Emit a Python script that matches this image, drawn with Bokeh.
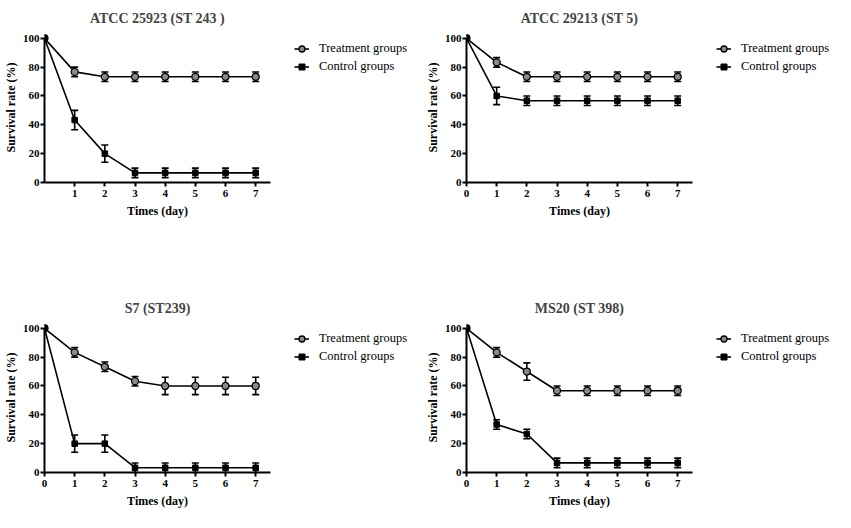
from bokeh.plotting import figure
from bokeh.models import (Range1d, FixedTicker, Legend, LegendItem, ColumnDataSource,
                          Whisker, TeeHead)
from bokeh.layouts import row, column
from bokeh.embed import file_html
from bokeh.resources import INLINE

days = [0, 1, 2, 3, 4, 5, 6, 7]
titles = ["ATCC 25923 (ST 243 )", "ATCC 29213 (ST 5)", "S7 (ST239)", "MS20 (ST 398)"]

p1_treat = [100, 76.7, 73.3, 73.3, 73.3, 73.3, 73.3, 73.3]
p1_treat_err = [0, 3.3, 3.3, 3.3, 3.3, 3.3, 3.3, 3.3]
p1_ctrl = [100, 43.3, 20.0, 6.7, 6.7, 6.7, 6.7, 6.7]
p1_ctrl_err = [0, 6.7, 6.0, 3.3, 3.3, 3.3, 3.3, 3.3]

p2_treat = [100, 83.3, 73.3, 73.3, 73.3, 73.3, 73.3, 73.3]
p2_treat_err = [0, 3.3, 3.3, 3.3, 3.3, 3.3, 3.3, 3.3]
p2_ctrl = [100, 60.0, 56.7, 56.7, 56.7, 56.7, 56.7, 56.7]
p2_ctrl_err = [0, 6.0, 3.3, 3.3, 3.3, 3.3, 3.3, 3.3]

p3_treat = [100, 83.3, 73.3, 63.3, 60.0, 60.0, 60.0, 60.0]
p3_treat_err = [0, 3.3, 3.3, 3.3, 6.0, 6.0, 6.0, 6.0]
p3_ctrl = [100, 20.0, 20.0, 3.3, 3.3, 3.3, 3.3, 3.3]
p3_ctrl_err = [0, 6.0, 6.0, 3.3, 3.3, 3.3, 3.3, 3.3]

p4_treat = [100, 83.3, 70.0, 56.7, 56.7, 56.7, 56.7, 56.7]
p4_treat_err = [0, 3.3, 6.0, 3.3, 3.3, 3.3, 3.3, 3.3]
p4_ctrl = [100, 33.3, 26.7, 6.7, 6.7, 6.7, 6.7, 6.7]
p4_ctrl_err = [0, 3.3, 3.3, 3.3, 3.3, 3.3, 3.3, 3.3]

x_ticks_first = [1, 2, 3, 4, 5, 6, 7]
x_ticks_other = [0, 1, 2, 3, 4, 5, 6, 7]
y_ticks = [0, 20, 40, 60, 80, 100]
legend_labels = ["Treatment groups", "Control groups"]
x_label = "Times (day)"
y_label = "Survival rate (%)"

FONT = "Liberation Serif"
S = 30.5714  # px per day
X_END = 229 / S
PLOT_W = 272
TOP_H = 290
BOT_H = 220
LEG_W_LEFT = 150
LEG_W_RIGHT = 140

LINE_KW = dict(line_width=1.6, line_color="black")
TREAT_KW = dict(marker="circle", size=7, fill_color="#8a8a8a", line_color="black", line_width=1.3)
CTRL_KW = dict(marker="square", size=5.5, fill_color="black", line_color="black", line_width=1)


def err_source(vals, errs):
    xs, up, lo = [], [], []
    for d, v, e in zip(days, vals, errs):
        if e > 0:
            xs.append(d)
            up.append(v + e)
            lo.append(v - e)
    return ColumnDataSource(dict(x=xs, upper=up, lower=lo))


def make_panel(title, treat, terr, ctrl, cerr, xticks, height):
    p = figure(width=PLOT_W, height=height,
               x_range=Range1d(0, X_END), y_range=Range1d(0, 104),
               min_border_left=41, min_border_right=2,
               min_border_top=24, min_border_bottom=height - 182,
               toolbar_location=None, output_backend="svg", title=title)
    p.outline_line_color = None
    p.xgrid.visible = False
    p.ygrid.visible = False
    p.background_fill_color = "white"
    p.border_fill_color = "white"

    p.title.text_font = FONT
    p.title.text_font_size = "14px"
    p.title.text_font_style = "bold"
    p.title.align = "center"
    p.title.standoff = 13

    for ax in (p.xaxis, p.yaxis):
        ax.axis_line_width = 2
        ax.axis_line_color = "black"
        ax.major_tick_line_width = 2
        ax.major_tick_line_color = "black"
        ax.major_tick_in = 0
        ax.major_tick_out = 4
        ax.minor_tick_line_color = None
        ax.major_label_text_font = FONT
        ax.major_label_text_font_style = "bold"
        ax.major_label_text_font_size = "11px"
        ax.major_label_text_color = "black"
        ax.axis_label_text_font = FONT
        ax.axis_label_text_font_style = "bold"
        ax.axis_label_text_font_size = "12px"
        ax.axis_label_text_color = "black"

    p.yaxis.bounds = (0, 100)
    p.yaxis.ticker = FixedTicker(ticks=y_ticks)
    p.yaxis.major_label_standoff = 1
    p.yaxis.axis_label = y_label
    p.yaxis.axis_label_standoff = 2

    p.xaxis.bounds = (0, X_END)
    p.xaxis.ticker = FixedTicker(ticks=xticks)
    p.xaxis.major_label_standoff = 3
    p.xaxis.axis_label = x_label
    p.xaxis.axis_label_standoff = 4

    for vals, errs in ((treat, terr), (ctrl, cerr)):
        w = Whisker(source=err_source(vals, errs), base="x", upper="upper", lower="lower",
                    line_width=1.6, line_color="black",
                    upper_head=TeeHead(size=7, line_width=1.6, line_color="black"),
                    lower_head=TeeHead(size=7, line_width=1.6, line_color="black"))
        p.add_layout(w)

    p.line(days, treat, **LINE_KW)
    p.line(days, ctrl, **LINE_KW)
    p.scatter(days, treat, **TREAT_KW)
    p.scatter(days, ctrl, **CTRL_KW)
    return p


def make_legend(width, height, treat, ctrl):
    # legend-only figure: its ranges lie outside the data, so only the legend shows
    q = figure(width=width, height=height, x_axis_type=None, y_axis_type=None,
               x_range=Range1d(-20, -19), y_range=Range1d(-20, -19),
               min_border_left=14, min_border_top=32, min_border_right=0, min_border_bottom=0,
               toolbar_location=None, output_backend="svg")
    q.outline_line_color = None
    q.xgrid.visible = False
    q.ygrid.visible = False
    lt = q.line(days, treat, **LINE_KW)
    st = q.scatter(days, treat, **TREAT_KW)
    lc = q.line(days, ctrl, **LINE_KW)
    sc = q.scatter(days, ctrl, **CTRL_KW)
    legend = Legend(items=[LegendItem(label=legend_labels[0], renderers=[lt, st]),
                           LegendItem(label=legend_labels[1], renderers=[lc, sc])],
                    location="top_left")
    legend.background_fill_alpha = 0
    legend.border_line_alpha = 0
    legend.padding = 0
    legend.margin = 8
    legend.spacing = 1
    legend.glyph_width = 15
    legend.glyph_height = 17
    legend.label_height = 17
    legend.label_standoff = 10
    legend.label_text_font = FONT
    legend.label_text_font_size = "12.5px"
    legend.label_text_color = "black"
    q.add_layout(legend)
    return q


f1 = make_panel(titles[0], p1_treat, p1_treat_err, p1_ctrl, p1_ctrl_err, x_ticks_first, TOP_H)
f2 = make_panel(titles[1], p2_treat, p2_treat_err, p2_ctrl, p2_ctrl_err, x_ticks_other, TOP_H)
f3 = make_panel(titles[2], p3_treat, p3_treat_err, p3_ctrl, p3_ctrl_err, x_ticks_other, BOT_H)
f4 = make_panel(titles[3], p4_treat, p4_treat_err, p4_ctrl, p4_ctrl_err, x_ticks_other, BOT_H)

l1 = make_legend(LEG_W_LEFT, TOP_H, p1_treat, p1_ctrl)
l2 = make_legend(LEG_W_RIGHT, TOP_H, p2_treat, p2_ctrl)
l3 = make_legend(LEG_W_LEFT, BOT_H, p3_treat, p3_ctrl)
l4 = make_legend(LEG_W_RIGHT, BOT_H, p4_treat, p4_ctrl)

layout = column(row(f1, l1, f2, l2), row(f3, l3, f4, l4))
open("out.html", "w").write(file_html(layout, INLINE))
